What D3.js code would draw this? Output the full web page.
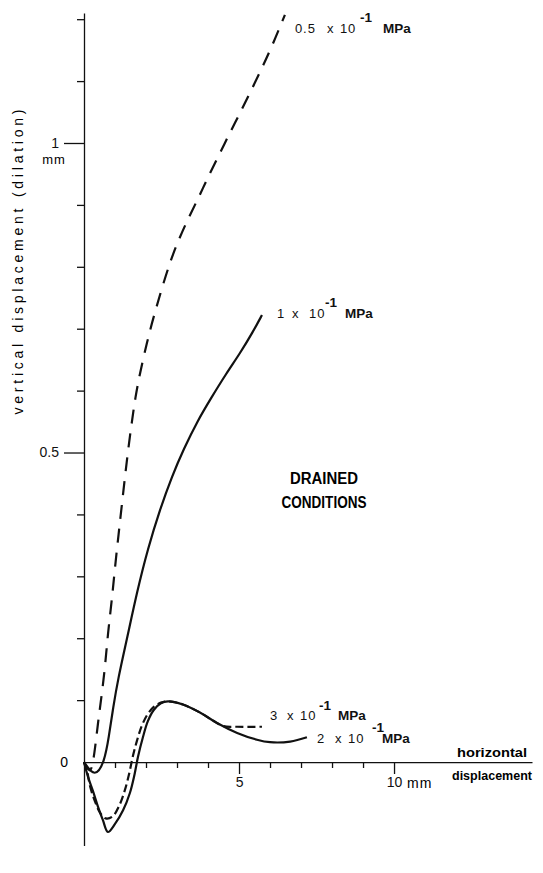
<!DOCTYPE html>
<html>
<head>
<meta charset="utf-8">
<script src="https://cdn.jsdelivr.net/npm/d3@7"></script>
<style>
  html, body { margin: 0; padding: 0; background: #fff; }
  svg { display: block; font-family: "Liberation Sans", Arial, sans-serif; }
</style>
</head>
<body>
<div id="chart"></div>
<script>
// axis ticks
const xTicksMinor = [1, 2, 3, 4, 6, 7, 8, 9];
const xTicksMajor = [5, 10];
const yTicksMinor = [0.1, 0.2, 0.3, 0.4, 0.6, 0.7, 0.8, 0.9, 1.1, 1.2];
const yTicksMajor = [0.5, 1];

// curves: [horizontal mm, vertical mm]
const curve05 = [[0, 0], [0.2, -0.02], [0.29, 0], [0.35, 0.019], [0.45, 0.063], [0.55, 0.1],
  [0.68, 0.153], [0.77, 0.208], [0.9, 0.262], [1.0, 0.315], [1.12, 0.37], [1.22, 0.415],
  [1.32, 0.46], [1.43, 0.507], [1.55, 0.552], [1.66, 0.59], [1.78, 0.622], [1.93, 0.656],
  [2.13, 0.698], [2.32, 0.732], [2.54, 0.77], [2.78, 0.808], [3.02, 0.84], [3.35, 0.877],
  [3.68, 0.91], [4.0, 0.945], [4.33, 0.978], [4.7, 1.016], [5.05, 1.05], [5.42, 1.088],
  [5.78, 1.125], [6.12, 1.163], [6.48, 1.207]];
const curve1 = [[0, 0], [0.35, -0.026], [0.66, 0], [0.8, 0.04], [0.94, 0.088], [1.1, 0.135],
  [1.39, 0.2], [1.71, 0.275], [2.06, 0.345], [2.45, 0.408], [2.84, 0.462], [3.22, 0.506],
  [3.65, 0.55], [4.1, 0.588], [4.58, 0.627], [5.03, 0.66], [5.45, 0.695], [5.74, 0.722]];
const curve3 = [[0, 0], [0.1, -0.015], [0.2, -0.04], [0.35, -0.063], [0.52, -0.082], [0.7, -0.091],
  [0.92, -0.088], [1.14, -0.07], [1.32, -0.045], [1.46, -0.018], [1.57, 0.008], [1.7, 0.033],
  [1.86, 0.058], [2.05, 0.077], [2.25, 0.089], [2.48, 0.096], [2.71, 0.098], [3.19, 0.093],
  [3.74, 0.08], [4.16, 0.067], [4.5, 0.058], [4.94, 0.057], [5.74, 0.057]];
const curve2 = [[0, 0], [0.13, -0.024], [0.29, -0.047], [0.45, -0.072], [0.61, -0.094], [0.77, -0.113],
  [1.0, -0.1], [1.26, -0.078], [1.48, -0.05], [1.63, -0.02], [1.74, 0.008], [1.9, 0.04],
  [2.06, 0.066], [2.25, 0.084], [2.48, 0.095], [2.71, 0.098], [3.19, 0.093], [3.74, 0.08],
  [4.29, 0.063], [4.94, 0.047], [5.58, 0.036], [6.0, 0.032], [6.65, 0.033], [7.19, 0.04]];

const seriesLabels = ['0.5', '1', '3', '2'];

const width = 543;
const height = 873;

const x = d3.scaleLinear().domain([0, 14.45]).range([84, 532]);
const y = d3.scaleLinear().domain([-0.135, 1.21]).range([845.6, 13]);

const svg = d3.select('#chart')
  .append('svg')
  .attr('width', width)
  .attr('height', height);

// curves
const line = d3.line()
  .x(d => x(d[0]))
  .y(d => y(d[1]))
  .curve(d3.curveCatmullRom.alpha(0.5));

const lineSmooth = d3.line()
  .x(d => x(d[0]))
  .y(d => y(d[1]))
  .curve(d3.curveBasis);

const series = [
  { key: '0.5', data: curve05, dash: '14,10', lx: 10, ly: 18, smooth: true,
    parts: [[seriesLabels[0], 0, 0], ['x', 32, 0], ['10', 45, 0], ['-1', 65, -11, true], ['MPa', 88, 0, true]] },
  { key: '1', data: curve1, dash: null, lx: 15, ly: 3, smooth: true,
    parts: [[seriesLabels[1], 0, 0], ['x', 15, 0], ['10', 32, 0], ['-1', 48, -11, true], ['MPa', 68, 0, true]] },
  { key: '3', data: curve3, dash: '8,4', lx: 8, ly: -7, smooth: false,
    parts: [[seriesLabels[2], 0, 0], ['x', 17, 0], ['10', 30, 0], ['-1', 49, -10, true], ['MPa', 68, 0, true]] },
  { key: '2', data: curve2, dash: null, lx: 10, ly: 6, smooth: false,
    parts: [[seriesLabels[3], 0, 0], ['x', 18, 0], ['10', 31, 0], ['-1', 55, -11, true], ['MPa', 65, 0, true]] }
];

svg.append('g')
  .selectAll('path')
  .data(series)
  .join('path')
  .attr('d', d => (d.smooth ? lineSmooth : line)(d.data))
  .attr('fill', 'none')
  .attr('stroke', '#111')
  .attr('stroke-width', 2.2)
  .attr('stroke-linejoin', 'round')
  .attr('stroke-dasharray', d => d.dash);

// curve labels
series.forEach(s => {
  const end = s.data[s.data.length - 1];
  const x0 = x(end[0]) + s.lx;
  const y0 = y(end[1]) + s.ly;
  s.parts.forEach(([t, dx, dy, bold]) => {
    svg.append('text')
      .attr('x', x0 + dx)
      .attr('y', y0 + dy)
      .attr('font-size', bold ? 13.5 : 13)
      .attr('font-weight', bold ? 'bold' : 'normal')
      .attr('letter-spacing', bold ? 0 : 1)
      .attr('fill', '#111')
      .text(t);
  });
});

// x axis
const xAxisG = svg.append('g')
  .attr('transform', `translate(0, ${y(0)})`);
xAxisG.append('g')
  .call(d3.axisBottom(x).tickValues(xTicksMinor).tickSize(6).tickSizeOuter(0).tickFormat(''));
xAxisG.append('g')
  .call(d3.axisBottom(x).tickValues(xTicksMajor).tickSize(12).tickSizeOuter(0).tickPadding(3))
  .call(g => g.select('.domain').remove());

// y axis
const yAxisG = svg.append('g')
  .attr('transform', `translate(${x(0)}, 0)`);
yAxisG.append('g')
  .call(d3.axisLeft(y).tickValues(yTicksMinor).tickSize(7).tickSizeOuter(0).tickFormat(''));
yAxisG.append('g')
  .call(d3.axisLeft(y).tickValues(yTicksMajor).tickSize(20).tickSizeOuter(0).tickPadding(5).tickFormat(d => d))
  .call(g => g.select('.domain').remove());

svg.selectAll('.tick text')
  .attr('font-family', '"Liberation Sans", Arial, sans-serif')
  .attr('font-size', 14)
  .attr('fill', '#111');

svg.selectAll('.domain, .tick line')
  .attr('stroke', '#111')
  .attr('stroke-width', 1.3);

// extra axis text
svg.append('text')
  .attr('x', x(0) - 16)
  .attr('y', y(0) + 5)
  .attr('text-anchor', 'end')
  .attr('font-size', 14)
  .text('0');

svg.append('text')
  .attr('x', x(0) - 30)
  .attr('y', y(1) + 21)
  .attr('text-anchor', 'middle')
  .attr('font-size', 13)
  .attr('letter-spacing', 1)
  .text('mm');

svg.append('text')
  .attr('x', x(10) + 13)
  .attr('y', y(0) + 26)
  .attr('font-size', 14)
  .attr('letter-spacing', 1)
  .text('mm');

svg.append('text')
  .attr('transform', 'translate(23, 262) rotate(-90)')
  .attr('text-anchor', 'middle')
  .attr('font-size', 14)
  .attr('textLength', 305)
  .attr('lengthAdjust', 'spacing')
  .text('vertical displacement (dilation)');

svg.append('text')
  .attr('x', 492)
  .attr('y', y(0) - 5)
  .attr('text-anchor', 'middle')
  .attr('font-size', 13.5)
  .attr('font-weight', 'bold')
  .attr('textLength', 70)
  .attr('lengthAdjust', 'spacingAndGlyphs')
  .text('horizontal');

svg.append('text')
  .attr('x', 492)
  .attr('y', y(0) + 18)
  .attr('text-anchor', 'middle')
  .attr('font-size', 13.5)
  .attr('font-weight', 'bold')
  .attr('textLength', 80)
  .attr('lengthAdjust', 'spacingAndGlyphs')
  .text('displacement');

svg.append('text')
  .attr('x', 324)
  .attr('y', 484)
  .attr('text-anchor', 'middle')
  .attr('font-size', 16)
  .attr('font-weight', 'bold')
  .attr('textLength', 68)
  .attr('lengthAdjust', 'spacingAndGlyphs')
  .text('DRAINED');

svg.append('text')
  .attr('x', 324)
  .attr('y', 508)
  .attr('text-anchor', 'middle')
  .attr('font-size', 16)
  .attr('font-weight', 'bold')
  .attr('textLength', 85)
  .attr('lengthAdjust', 'spacingAndGlyphs')
  .text('CONDITIONS');
</script>
</body>
</html>
